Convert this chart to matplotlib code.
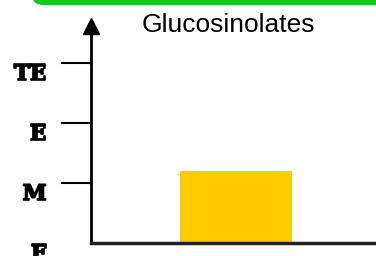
import matplotlib.pyplot as plt
import matplotlib.patheffects as pe
from matplotlib.patches import FancyBboxPatch

# Data
categories = ["Glucosinolates"]
values = [1.2]
levels = [0, 1, 2, 3]
level_labels = ["F", "M", "E", "TE"]

W, H, DPI = 376, 256, 100
fig = plt.figure(figsize=(W / DPI, H / DPI), dpi=DPI)

# Green header band (rounded box, partly outside the figure)
band = FancyBboxPatch(
    (33 / W, 1 - 4.5 / H), 1.2, 0.2,
    boxstyle="round,pad=0,rounding_size=0.03",
    transform=fig.transFigure,
    facecolor="#11CC11", edgecolor="#22BB22", linewidth=0.8,
)
fig.patches.append(band)

# Axes placed in pixel terms: axis at x=91, baseline at y=243
ax = fig.add_axes([91 / W, (H - 243) / H, (W - 91) / W, 225 / H])
ax.bar(range(len(categories)), values, width=1.0, color="#FFCC00", zorder=2)

ax.set_xlim(-1.295, 1.25)
ax.set_ylim(0, 3.75)

for side in ["top", "right"]:
    ax.spines[side].set_visible(False)
ax.spines["left"].set_linewidth(2)
ax.spines["left"].set_color("black")
ax.spines["left"].set_bounds(0, 3.5)
ax.spines["bottom"].set_linewidth(2.5)
ax.spines["bottom"].set_color("#222222")

# Arrow head on the y axis
ax.plot(-1.295, 3.625, marker="^", markersize=11, color="black",
        clip_on=False, zorder=5)

ax.set_xticks([])
ax.set_yticks(levels)
ax.set_yticklabels(level_labels, fontfamily="DejaVu Serif",
                   fontweight="bold", fontsize=15.5)
ax.tick_params(axis="y", length=21.6, width=1.5, pad=10.5, colors="black")
for lbl in ax.get_yticklabels():
    lbl.set_verticalalignment("top")
    lbl.set_path_effects([pe.withStroke(linewidth=1.2, foreground="black")])
ax.yaxis.get_major_ticks()[0].tick1line.set_visible(False)

fig.text(228 / W, (H - 32) / H, "Glucosinolates", ha="center",
         va="baseline", fontfamily="Liberation Sans", fontsize=19)

fig.savefig("out.png", dpi=DPI)
plt.close(fig)
